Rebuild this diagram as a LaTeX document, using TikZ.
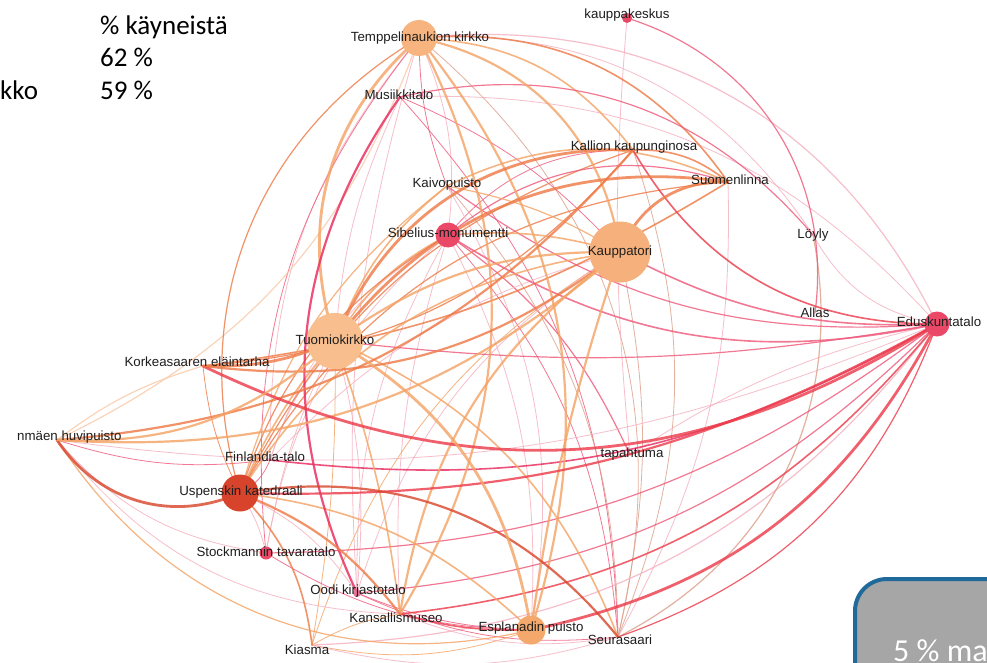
\documentclass[tikz,border=0pt]{standalone}
\usepackage{fontspec}
\setmainfont{Liberation Sans}
\newfontfamily\slidefont{Carlito}
\definecolor{cOr}{HTML}{F4A466}
\definecolor{cOR}{HTML}{EE7B48}
\definecolor{cRd}{HTML}{EC3D4C}
\definecolor{cDR}{HTML}{D9482E}
\definecolor{cPk}{HTML}{EF5A7C}
\definecolor{cLP}{HTML}{F5B0BF}
\definecolor{cPe}{HTML}{F9CBAA}
\definecolor{cTn}{HTML}{DCA08C}
\definecolor{cMg}{HTML}{E92A5E}
\definecolor{nT}{HTML}{F8B47E}
\definecolor{nKt}{HTML}{F6B07B}
\definecolor{nTu}{HTML}{F8BE8D}
\definecolor{nEs}{HTML}{F5A86B}
\definecolor{nU}{HTML}{D8442B}
\definecolor{nPk}{HTML}{EB4868}
\definecolor{nOo}{HTML}{E8789A}
\definecolor{boxG}{HTML}{A6A6A6}
\definecolor{boxB}{HTML}{1F6A9A}
\definecolor{labC}{HTML}{1E1E1E}
\newcommand\edg[4]{\draw[ed,#1] (#2) to[#4] (#3);}
\tikzset{
  ed/.style={opacity=0.82, line cap=round},
  wa/.style={line width=0.8pt},
  wb/.style={line width=1.2pt},
  wc/.style={line width=1.6pt},
  wd/.style={line width=2.2pt},
  we/.style={line width=2.8pt},
  dot/.style={circle, inner sep=0pt, draw=none},
  lab/.style={font=\fontsize{13.3}{15}\selectfont, text=labC, inner sep=0pt},
  slide/.style={font=\slidefont\fontsize{27}{32}\selectfont, text=black, inner sep=0pt}
}
\begin{document}
\begin{tikzpicture}[x=1pt,y=1pt]
\useasboundingbox (0,0) rectangle (987,-663);
\fill[white] (0,0) rectangle (987,-663);
% node centres
\coordinate (kk) at (627,-18);
\coordinate (T) at (419,-38);
\coordinate (Mu) at (400,-97);
\coordinate (Ka) at (633,-150);
\coordinate (Kp) at (447,-186);
\coordinate (Su) at (728,-182);
\coordinate (Si) at (448,-235);
\coordinate (Kt) at (620,-252);
\coordinate (Lo) at (813,-235);
\coordinate (Al) at (815,-313);
\coordinate (Ed) at (937,-324);
\coordinate (Tu) at (335,-341);
\coordinate (Ko) at (203,-366);
\coordinate (Li) at (57,-440);
\coordinate (Fi) at (270,-460);
\coordinate (Ta) at (630,-455);
\coordinate (U) at (240,-493);
\coordinate (St) at (266,-553);
\coordinate (Oo) at (357,-593);
\coordinate (Km) at (400,-614);
\coordinate (Es) at (531,-630);
\coordinate (Se) at (618,-637);
\coordinate (Ki) at (312,-645);
% ---- edges: thin first
\edg{cLP,wa}{T}{Si}{bend left=15}
\edg{cPk,wa}{T}{Kp}{bend right=10}
\edg{cLP,wb}{T}{Ed}{bend left=35}
\edg{cLP,wa}{T}{Lo}{bend left=30}
\edg{cLP,wa}{T}{Fi}{bend right=20}
\edg{cPk,wa}{T}{St}{bend right=22}
\edg{cLP,wa}{T}{Oo}{bend right=10}
\edg{cTn,wa}{T}{Se}{bend left=32}
\edg{cPk,wa}{Mu}{Kt}{bend left=12}
\edg{cPk,wa}{Mu}{Se}{bend left=20}
\edg{cLP,wa}{Mu}{Ed}{bend left=25}
\edg{cLP,wa}{Mu}{Tu}{bend right=10}
\edg{cLP,wa}{kk}{Ta}{bend right=5}
\edg{cTn,wa}{Ka}{Se}{bend left=20}
\edg{cPk,wa}{Si}{Ka}{bend left=25}
\edg{cLP,wa}{Se}{Su}{bend right=15}
\edg{cLP,wa}{Kp}{Es}{bend left=20}
\edg{cPk,wb}{Si}{Ta}{bend left=15}
\edg{cLP,wa}{Si}{St}{bend right=20}
\edg{cLP,wa}{Si}{Oo}{bend right=15}
\edg{cLP,wa}{Si}{Es}{bend left=15}
\edg{cPk,wa}{Si}{Se}{bend left=18}
\edg{cLP,wa}{Si}{Fi}{bend right=20}
\edg{cLP,wa}{Si}{Km}{bend right=10}
\edg{cTn,wa}{Kt}{Se}{bend left=12}
\edg{cOr,wa}{Kt}{Ki}{bend right=20}
\edg{cLP,wa}{Kt}{Oo}{bend right=20}
\edg{cLP,wb}{Ed}{Ki}{bend left=25}
\edg{cLP,wa}{Li}{Ed}{bend right=15}
\edg{cLP,wa}{Lo}{Ed}{bend right=25}
\edg{cLP,wa}{Ta}{Ed}{bend left=10}
\edg{cLP,wa}{U}{St}{bend left=10}
\edg{cPk,wa}{U}{Fi}{bend right=20}
\edg{cLP,wa}{U}{Oo}{bend left=15}
\edg{cLP,wa}{Tu}{Fi}{bend right=10}
\edg{cOr,wa}{Tu}{Ki}{bend left=5}
\edg{cLP,wa}{Tu}{St}{bend right=8}
\edg{cLP,wa}{Tu}{Oo}{bend left=10}
\edg{cPk,wa}{Li}{Fi}{bend right=12}
\edg{cLP,wa}{Li}{St}{bend right=20}
\edg{cLP,wa}{Li}{Km}{bend right=25}
\edg{cTn,wb}{Lo}{Se}{bend left=37}
\edg{cOr,wa}{Ki}{Es}{bend right=15}
\edg{cOr,wa}{Ki}{Km}{bend left=10}
\edg{cPk,wa}{St}{Es}{bend right=15}
\edg{cPk,wa}{Oo}{Es}{bend right=10}
\edg{cPk,wa}{Oo}{Se}{bend right=15}
\edg{cLP,wa}{Km}{Se}{bend right=15}
\edg{cLP,wa}{Ki}{Se}{bend right=15}
\edg{cLP,wa}{Fi}{Kt}{bend left=15}
\edg{cTn,wa}{Se}{Kp}{bend right=20}
\edg{cOR,wa}{Ko}{U}{bend right=10}
\edg{cPe,wb}{Li}{Ko}{bend left=10}
\edg{cPe,wb}{Li}{T}{bend right=22}
% ---- medium edges
\edg{cOR,wb}{T}{U}{bend right=38}
\edg{cOr,wc}{T}{Ka}{bend left=25}
\edg{cOR,wc}{T}{Su}{bend left=30}
\edg{cPk,wb}{Mu}{Lo}{bend left=31}
\edg{cPk,wb}{kk}{Al}{bend left=40}
\edg{cOR,wb}{U}{Ka}{bend left=22}
\edg{cOR,wc}{Ka}{Su}{bend left=20}
\edg{cOR,wb}{Ko}{Ka}{bend right=22}
\edg{cPk,wb}{Si}{Su}{bend left=28}
\edg{cOr,wc}{Kp}{Su}{bend left=25}
\edg{cOR,wb}{U}{Su}{bend left=28}
\edg{cOR,wc}{Ko}{Su}{bend right=12}
\edg{cOr,wc}{Tu}{Kp}{bend left=15}
\edg{cOr,wb}{U}{Kp}{bend left=18}
\edg{cPk,wb}{Kp}{Ed}{bend right=20}
\edg{cOr,wb}{Kp}{Kt}{bend left=10}
\edg{cPk,wc}{Si}{Ed}{bend right=22}
\edg{cOr,wc}{Si}{Kt}{bend left=10}
\edg{cOr,wc}{Tu}{Si}{bend left=15}
\edg{cOR,wb}{U}{Si}{bend left=20}
\edg{cOr,wc}{U}{Kt}{bend left=25}
\edg{cPk,wc}{Kt}{Ed}{bend right=15}
\edg{cRd,wc}{Ka}{Ed}{bend right=30}
\edg{cPk,wb}{Tu}{Ed}{bend right=8}
\edg{cRd,wc}{Ed}{Km}{bend left=22}
\edg{cPk,wb}{Ed}{Oo}{bend left=20}
\edg{cPk,wb}{Ed}{St}{bend left=18}
\edg{cRd,wb}{Ed}{Se}{bend left=25}
\edg{cMg,wc}{Fi}{Ed}{bend right=18}
\edg{cOR,wc}{U}{Ki}{bend left=18}
\edg{cOr,wc}{U}{Es}{bend left=18}
\edg{cOr,wc}{U}{Tu}{bend left=8}
\edg{cOr,wc}{Tu}{Km}{bend left=6}
\edg{cOr,wc}{Tu}{Se}{bend left=22}
\edg{cOr,wb}{Li}{Es}{bend right=35}
\edg{cRd,wc}{Km}{Es}{bend right=8}
% ---- heavy edges
\edg{cOr,we}{T}{Tu}{bend right=33}
\edg{cOr,wd}{T}{Kt}{bend left=35}
\edg{cOr,wd}{T}{Es}{bend left=28}
\edg{cOr,wd}{T}{Km}{bend left=29}
\edg{cMg,wd}{Mu}{Oo}{bend right=30}
\edg{cOR,we}{Tu}{Ka}{bend left=35}
\edg{cOR,wd}{Li}{Ka}{bend right=22}
\edg{cOR,we}{Kt}{Su}{bend left=35}
\edg{cOR,we}{Tu}{Su}{bend left=30}
\edg{cOR,wd}{Ko}{Kt}{bend right=22}
\edg{cOr,wd}{Li}{Kt}{bend right=22}
\edg{cOr,wd}{Kt}{Km}{bend right=22}
\edg{cOr,wd}{Kt}{Es}{bend right=5}
\edg{cOr,wd}{Tu}{Kt}{bend left=18}
\edg{cRd,we}{Ko}{Ed}{bend right=29}
\edg{cRd,we}{Ed}{Es}{bend left=25}
\edg{cRd,wd}{U}{Ed}{bend right=15}
\edg{cDR,we}{Li}{U}{bend right=40}
\edg{cDR,wd}{U}{Se}{bend left=30}
\edg{cOR,wd}{U}{Km}{bend left=15}
\edg{cOr,we}{Tu}{Es}{bend left=25}
\edg{cOR,we}{Ko}{Tu}{bend right=12}
\edg{cOr,wd}{Li}{Tu}{bend right=22}
% ---- node discs
\node[dot, fill=nKt, minimum size=61pt] (cKt) at (Kt) {};
\node[dot, fill=nTu, minimum size=56pt] (cTu) at (Tu) {};
\node[dot, fill=nT, minimum size=36pt] (cT) at (T) {};
\node[dot, fill=nU, minimum size=37pt] (cU) at (U) {};
\node[dot, fill=nEs, minimum size=29pt] (cEs) at (Es) {};
\node[dot, fill=nPk, minimum size=25pt] (cSi) at (Si) {};
\node[dot, fill=nPk, minimum size=25pt] (cEd) at (Ed) {};
\node[dot, fill=nPk, minimum size=13pt] (cSt) at (St) {};
\node[dot, fill=nPk, minimum size=10pt] (ckk) at (kk) {};
\node[dot, fill=nOo, minimum size=8pt] (cOo) at (Oo) {};
% ---- labels
\node[lab] (lkk) at (627,-15) {kauppakeskus};
\node[lab] (lT) at (420,-38) {Temppelinaukion kirkko};
\node[lab] (lMu) at (399,-95) {Musiikkitalo};
\node[lab] (lKa) at (634,-147) {Kallion kaupunginosa};
\node[lab] (lKp) at (447,-184) {Kaivopuisto};
\node[lab] (lSu) at (730,-180) {Suomenlinna};
\node[lab] (lSi) at (448,-233) {Sibelius-monumentti};
\node[lab] (lKt) at (620,-252) {Kauppatori};
\node[lab] (lLo) at (813,-235) {Löyly};
\node[lab] (lAl) at (815,-313) {Allas};
\node[lab] (lEd) at (939,-322) {Eduskuntatalo};
\node[lab] (lTu) at (335,-340) {Tuomiokirkko};
\node[lab] (lKo) at (197,-362) {Korkeasaaren eläintarha};
\node[lab, anchor=west] (lLi) at (17,-437) {nmäen huvipuisto};
\node[lab] (lFi) at (265,-457) {Finlandia-talo};
\node[lab] (lTa) at (632,-454) {tapahtuma};
\node[lab] (lU) at (241,-492) {Uspenskin katedraali};
\node[lab] (lSt) at (266,-552) {Stockmannin tavaratalo};
\node[lab] (lOo) at (358,-591) {Oodi kirjastotalo};
\node[lab] (lKm) at (396,-618) {Kansallismuseo};
\node[lab] (lEs) at (531,-628) {Esplanadin puisto};
\node[lab] (lSe) at (620,-640) {Seurasaari};
\node[lab] (lKi) at (307,-650) {Kiasma};
% ---- slide fragments
\node[slide, anchor=base west] (s1) at (100,-35) {\% käyneistä};
\node[slide, anchor=base west] (s2) at (100,-67) {62 \%};
\node[slide, anchor=base west] (s3) at (100,-100) {59 \%};
\node[slide, anchor=base west] (s4) at (0,-100) {kko};
\draw[line width=4pt, draw=boxB, fill=boxG, rounded corners=32pt] (855,-579) rectangle (1060,-740);
\node[anchor=base west, inner sep=0pt, text=white, font=\slidefont\fontsize{32}{38}\selectfont] (bx) at (893,-661) {5 \% ma};
\end{tikzpicture}
\end{document}
